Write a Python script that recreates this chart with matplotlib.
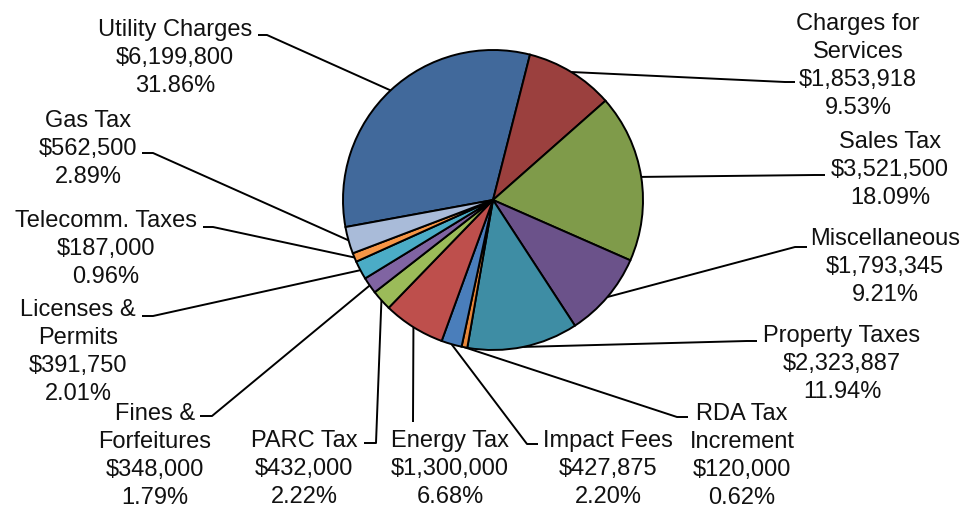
import numpy as np
import matplotlib.pyplot as plt

plt.rcParams['font.family'] = ['Liberation Sans', 'DejaVu Sans']

W, H = 964, 508

# data, clockwise starting with Utility Charges
names = ["Utility Charges", "Charges for\nServices", "Sales Tax", "Miscellaneous",
         "Property Taxes", "RDA Tax\nIncrement", "Impact Fees", "Energy Tax",
         "PARC Tax", "Fines &\nForfeitures", "Licenses &\nPermits",
         "Telecomm. Taxes", "Gas Tax"]
amounts = [6199800, 1853918, 3521500, 1793345, 2323887, 120000, 427875,
           1300000, 432000, 348000, 391750, 187000, 562500]
colors = ["#41699B", "#9B403E", "#7F9B4A", "#6B528A", "#3E8DA4", "#E8873A",
          "#4A7EBB", "#BE4F4C", "#9BBB59", "#8064A2", "#4BACC6", "#F79646",
          "#A9BBD9"]

# label layout (pixel coords, y from top): text centre, elbow, tick end
text_xy = [(175, 58), (858, 66), (890, 170), (885, 267), (842, 364), (742, 456),
           (608, 469), (450, 469), (304, 469), (155, 456), (78, 352),
           (106, 249), (88, 149)]
elbow_xy = [(267, 35), (785, 82), (815, 175), (795, 247), (747, 341), (677, 417),
            (527, 444), (413, 422), (376, 443), (212, 416), (153, 316),
            (213, 227), (153, 153)]
tick_xy = [(258, 35), (795, 82), (825, 175), (807, 247), (757, 341), (688, 417),
           (538, 444), (413, 422), (364, 443), (200, 416), (142, 316),
           (203, 227), (142, 153)]


def P(x, y):
    return x, H - y


fig = plt.figure(figsize=(W / 100, H / 100), dpi=100)
ax = fig.add_axes([0, 0, 1, 1])

cx, cy = P(493, 200)
R = 150
total = sum(amounts)
wedges, _ = ax.pie(amounts, colors=colors, startangle=190.4, counterclock=False,
                   center=(cx, cy), radius=R, frame=True,
                   wedgeprops=dict(edgecolor="black", linewidth=1.4))

for i, w in enumerate(wedges):
    mid = np.deg2rad((w.theta1 + w.theta2) / 2)
    ax_, ay_ = cx + R * np.cos(mid), cy + R * np.sin(mid)
    ex, ey = P(*elbow_xy[i])
    tx, ty = P(*tick_xy[i])
    ax.plot([ax_, ex, tx], [ay_, ey, ty], color="black", lw=1.4,
            solid_capstyle="butt", zorder=0)
    label = f"{names[i]}\n${amounts[i]:,}\n{amounts[i] / total * 100:.2f}%"
    x, y = P(*text_xy[i])
    ax.text(x, y, label, ha="center", va="center", multialignment="center",
            fontsize=17, linespacing=1.35, color="#111111")

ax.set_xlim(0, W)
ax.set_ylim(0, H)
ax.set_aspect("equal")
ax.axis("off")

fig.savefig("out.png", dpi=100)
